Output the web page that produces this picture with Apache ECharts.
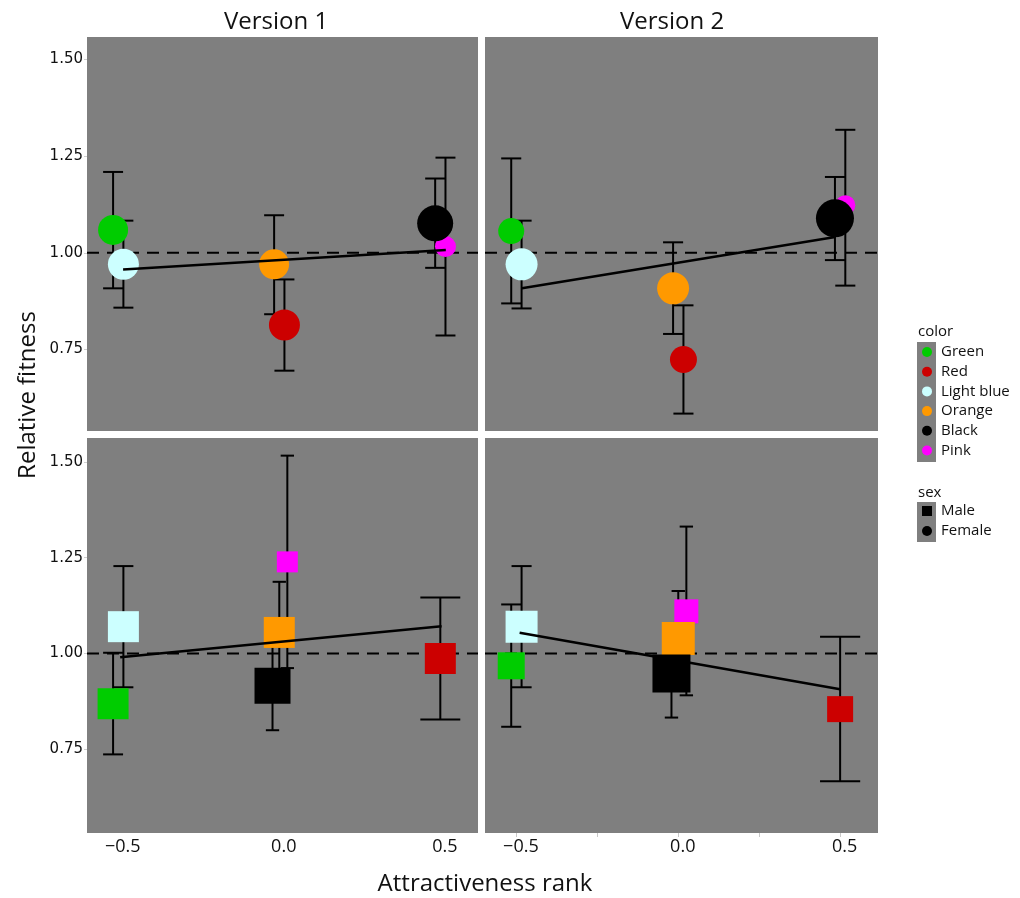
<!DOCTYPE html>
<html>
<head>
<meta charset="utf-8">
<script src="https://cdn.jsdelivr.net/npm/echarts@6/dist/echarts.min.js"></script>
<style>
html,body{margin:0;padding:0;background:#fff;}
#chart{width:1020px;height:898px;}
</style>
</head>
<body>
<div id="chart"></div>
<script>
// ---------- data ----------
const colorNames = ["Green", "Red", "Light blue", "Orange", "Black", "Pink"];
const sexLabels = ["Male", "Female"];
const versionLabels = ["Version 1", "Version 2"];
const yTicks = [0.75, 1.00, 1.25, 1.50];
const xLabelTicks = [-0.5, 0, 0.5];
const xMinorTicks = [-0.5, -0.25, 0, 0.25, 0.5];
const referenceValue = 1;

// attractiveness rank for each colour (order = colorNames)
const rankFemale = [-0.5, 0, -0.5, 0, 0.5, 0.5];
const rankMale   = [-0.5, 0.5, -0.5, 0, 0, 0];
// dodge offsets within a rank
const dodgeFemale = [-0.016, 0.016, 0.016, -0.016, -0.016, 0.016];
const dodgeMale   = [-0.016, 0, 0.016, 0, -0.021, 0.025];

// Version 1, female
const meanV1F = [1.059, 0.813, 0.970, 0.970, 1.076, 1.016];
const loV1F   = [0.908, 0.695, 0.858, 0.841, 0.961, 0.786];
const hiV1F   = [1.209, 0.931, 1.083, 1.097, 1.192, 1.246];
const sizeV1F = [30, 31, 31, 30, 36, 21];
const fitXV1F = [-0.485, 0.517];
const fitYV1F = [0.957, 1.007];

// Version 2, female
const meanV2F = [1.056, 0.724, 0.970, 0.908, 1.089, 1.123];
const loV2F   = [0.869, 0.584, 0.856, 0.790, 0.981, 0.915];
const hiV2F   = [1.244, 0.864, 1.083, 1.027, 1.196, 1.318];
const sizeV2F = [26, 27, 32, 32, 38, 20];
const fitXV2F = [-0.483, 0.485];
const fitYV2F = [0.908, 1.041];

// Version 1, male
const meanV1M = [0.869, 0.987, 1.070, 1.055, 0.916, 1.239];
const loV1M   = [0.737, 0.828, 0.912, 0.923, 0.800, 0.962];
const hiV1M   = [1.002, 1.146, 1.228, 1.187, 1.035, 1.516];
const sizeV1M = [31, 31, 31, 31, 36, 21];
const fitXV1M = [-0.494, 0.504];
const fitYV1M = [0.990, 1.071];

// Version 2, male
const meanV2M = [0.968, 0.855, 1.070, 1.039, 0.948, 1.110];
const loV2M   = [0.809, 0.667, 0.912, 0.915, 0.833, 0.891];
const hiV2M   = [1.128, 1.044, 1.228, 1.163, 1.063, 1.331];
const sizeV2M = [27, 26, 32, 33, 38, 24];
const fitXV2M = [-0.490, 0.500];
const fitYV2M = [1.054, 0.907];

// ---------- styling ----------
const colorHex = ["#00CC00", "#CC0000", "#CCFFFF", "#FF9900", "#000000", "#FF00FF"];
const panelBg = "#7F7F7F";
const xRange = [-0.597, 0.617];
const yRangeTop = [0.539, 1.558];
const yRangeBottom = [0.532, 1.562];
const capFull = 0.124;

const panels = [
  {mean: meanV1F, lo: loV1F, hi: hiV1F, size: sizeV1F, rank: rankFemale, dodge: dodgeFemale, symbol: "circle", fitX: fitXV1F, fitY: fitYV1F,
   grid: {left: 87, top: 37, width: 391, height: 394}, yr: yRangeTop, showY: true, showX: false, xTicks: false},
  {mean: meanV2F, lo: loV2F, hi: hiV2F, size: sizeV2F, rank: rankFemale, dodge: dodgeFemale, symbol: "circle", fitX: fitXV2F, fitY: fitYV2F,
   grid: {left: 485, top: 37, width: 393, height: 394}, yr: yRangeTop, showY: false, showX: false, xTicks: false},
  {mean: meanV1M, lo: loV1M, hi: hiV1M, size: sizeV1M, rank: rankMale, dodge: dodgeMale, symbol: "rect", fitX: fitXV1M, fitY: fitYV1M,
   grid: {left: 87, top: 438, width: 391, height: 395}, yr: yRangeBottom, showY: true, showX: true, xTicks: false},
  {mean: meanV2M, lo: loV2M, hi: hiV2M, size: sizeV2M, rank: rankMale, dodge: dodgeMale, symbol: "rect", fitX: fitXV2M, fitY: fitYV2M,
   grid: {left: 485, top: 438, width: 393, height: 395}, yr: yRangeBottom, showY: false, showX: true, xTicks: true}
];

const grids = [], xAxes = [], yAxes = [], series = [];
panels.forEach((p, i) => {
  grids.push(Object.assign({show: true, backgroundColor: panelBg, borderWidth: 0, containLabel: false}, p.grid));
  xAxes.push({
    type: "value", gridIndex: i, min: xRange[0], max: xRange[1], position: "bottom",
    axisLine: {show: false, onZero: false}, splitLine: {show: false},
    axisTick: {show: p.xTicks, customValues: xMinorTicks, length: 4, lineStyle: {color: "#c8c8c8", width: 1}},
    axisLabel: {show: p.showX, customValues: xLabelTicks, margin: 5, padding: [0, 0, 0, 9],
      fontFamily: "Open Sans", fontSize: 18, color: "#111",
      formatter: v => (v < 0 ? "\u2212" : "") + Math.abs(v).toFixed(1)}
  });
  yAxes.push({
    type: "value", gridIndex: i, min: p.yr[0], max: p.yr[1], position: "left",
    axisLine: {show: false, onZero: false}, splitLine: {show: false},
    axisTick: {show: p.showY, customValues: yTicks, length: 3, lineStyle: {color: "#d0d0d0", width: 1}},
    axisLabel: {show: p.showY, customValues: yTicks, margin: 4,
      fontFamily: "DejaVu Sans", fontSize: 15, color: "#111",
      formatter: v => v.toFixed(2)}
  });

  // reference dashed line
  series.push({
    type: "line", xAxisIndex: i, yAxisIndex: i, z: 1, silent: true,
    data: [[xRange[0], referenceValue], [xRange[1], referenceValue]],
    showSymbol: false, lineStyle: {color: "#000", width: 2, type: [12, 8]}
  });

  // error bars
  const ebData = p.mean.map((m, k) => {
    const n = p.rank.filter(r => r === p.rank[k]).length;
    return [p.rank[k] + p.dodge[k], p.lo[k], p.hi[k], capFull / n / 2];
  });
  series.push({
    type: "custom", xAxisIndex: i, yAxisIndex: i, z: 2, silent: true,
    data: ebData, encode: {x: 0, y: [1, 2]},
    renderItem: (params, api) => {
      const x = api.value(0), lo = api.value(1), hi = api.value(2), hw = api.value(3);
      const top = api.coord([x, hi]), bot = api.coord([x, lo]);
      const l = api.coord([x - hw, hi]), r = api.coord([x + hw, hi]);
      const h = (r[0] - l[0]) / 2;
      const st = {stroke: "#000", lineWidth: 2};
      return {type: "group", children: [
        {type: "line", shape: {x1: top[0], y1: top[1], x2: bot[0], y2: bot[1]}, style: st},
        {type: "line", shape: {x1: top[0] - h, y1: top[1], x2: top[0] + h, y2: top[1]}, style: st},
        {type: "line", shape: {x1: bot[0] - h, y1: bot[1], x2: bot[0] + h, y2: bot[1]}, style: st}
      ]};
    }
  });

  // points (drawn smallest first so the large ones sit on top)
  const order = p.size.map((s, k) => k).sort((a, b) => p.size[a] - p.size[b]);
  series.push({
    type: "scatter", xAxisIndex: i, yAxisIndex: i, z: 3, silent: true,
    symbol: p.symbol,
    data: order.map(k => ({
      value: [p.rank[k] + p.dodge[k], p.mean[k]],
      symbolSize: p.size[k],
      itemStyle: {color: colorHex[k], opacity: 1}
    }))
  });

  // fitted line
  series.push({
    type: "line", xAxisIndex: i, yAxisIndex: i, z: 4, silent: true,
    data: p.fitX.map((x, k) => [x, p.fitY[k]]),
    showSymbol: false, lineStyle: {color: "#000", width: 2.5}
  });
});

// legend + titles as graphics
const graphics = [];
graphics.push({type: "text", x: 276, y: 22, style: {text: versionLabels[0], font: "24px 'Open Sans'", fill: "#111", textAlign: "center", textVerticalAlign: "middle"}});
graphics.push({type: "text", x: 672, y: 22, style: {text: versionLabels[1], font: "24px 'Open Sans'", fill: "#111", textAlign: "center", textVerticalAlign: "middle"}});
graphics.push({type: "text", x: 485, y: 884, style: {text: "Attractiveness rank", font: "24px 'Open Sans'", fill: "#111", textAlign: "center", textVerticalAlign: "middle"}});
graphics.push({type: "text", x: 28, y: 395, rotation: Math.PI / 2, style: {text: "Relative fitness", font: "24px 'Open Sans'", fill: "#111", textAlign: "center", textVerticalAlign: "middle"}});

graphics.push({type: "text", x: 918, y: 332, style: {text: "color", font: "15px 'Open Sans'", fill: "#111", textVerticalAlign: "middle"}});
graphics.push({type: "rect", shape: {x: 917, y: 342, width: 19, height: 120}, style: {fill: panelBg}});
colorNames.forEach((nm, k) => {
  const cy = 352 + k * 19.7;
  graphics.push({type: "circle", shape: {cx: 927, cy: cy, r: 5}, style: {fill: colorHex[k]}});
  graphics.push({type: "text", x: 941, y: cy, style: {text: nm, font: "15px 'Open Sans'", fill: "#111", textVerticalAlign: "middle"}});
});
graphics.push({type: "text", x: 918, y: 493, style: {text: "sex", font: "15px 'Open Sans'", fill: "#111", textVerticalAlign: "middle"}});
graphics.push({type: "rect", shape: {x: 917, y: 502, width: 19, height: 40}, style: {fill: panelBg}});
graphics.push({type: "rect", shape: {x: 922, y: 506, width: 10, height: 10}, style: {fill: "#000"}});
graphics.push({type: "text", x: 941, y: 511, style: {text: sexLabels[0], font: "15px 'Open Sans'", fill: "#111", textVerticalAlign: "middle"}});
graphics.push({type: "circle", shape: {cx: 927, cy: 531, r: 5}, style: {fill: "#000"}});
graphics.push({type: "text", x: 941, y: 531, style: {text: sexLabels[1], font: "15px 'Open Sans'", fill: "#111", textVerticalAlign: "middle"}});

const chart = echarts.init(document.getElementById("chart"), null, {renderer: "canvas"});
chart.setOption({
  animation: false,
  backgroundColor: "#fff",
  grid: grids,
  xAxis: xAxes,
  yAxis: yAxes,
  series: series,
  graphic: graphics
});
</script>
</body>
</html>
